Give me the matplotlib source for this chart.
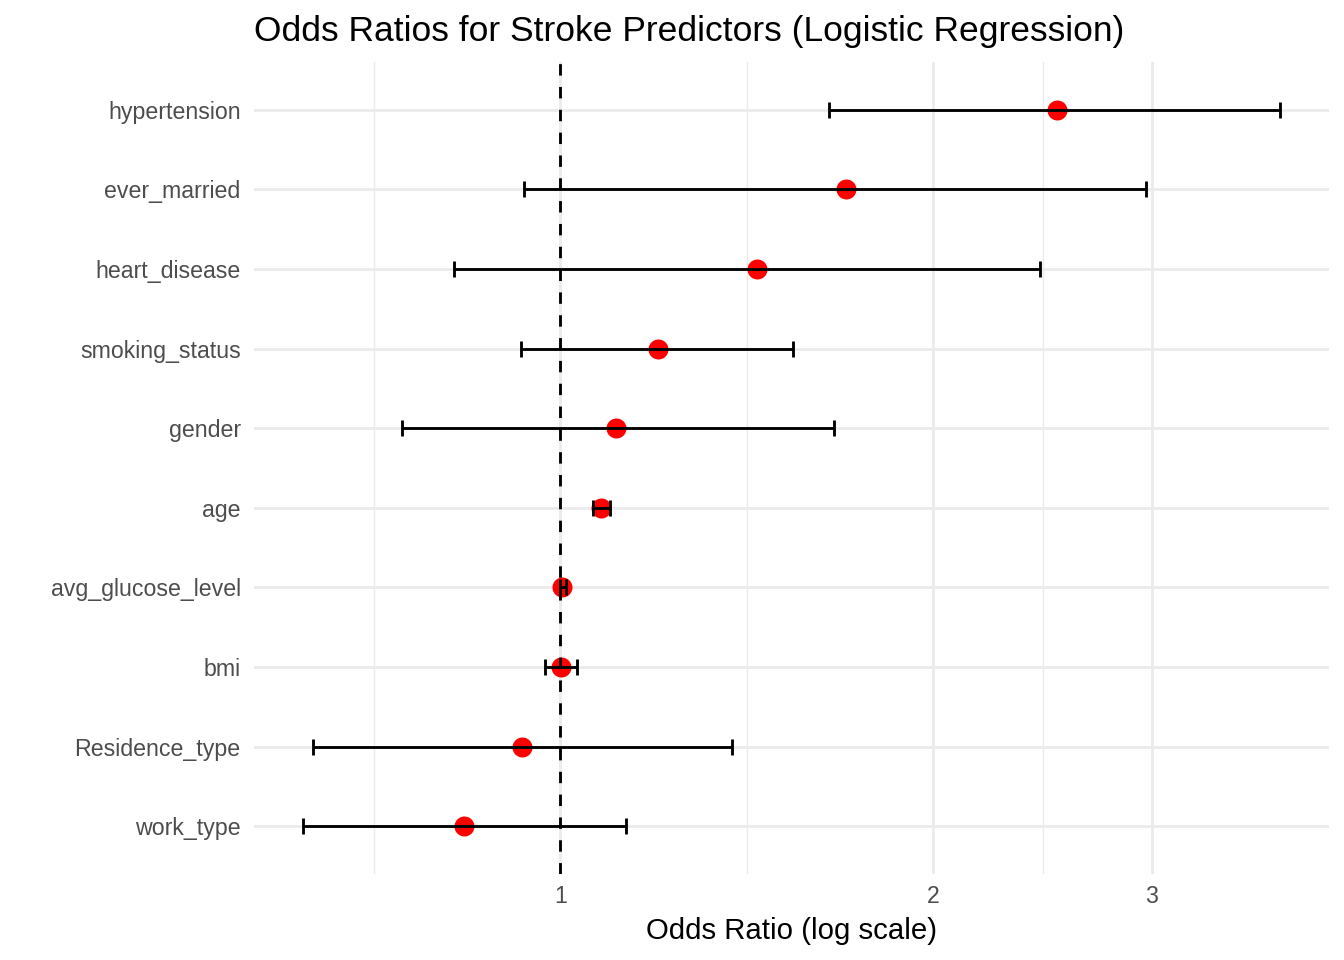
import numpy as np
import matplotlib.pyplot as plt
from matplotlib.ticker import FixedLocator, NullFormatter

plt.rcParams['font.family'] = ['Liberation Sans', 'DejaVu Sans']

# predictors, bottom to top
terms = ['work_type', 'Residence_type', 'bmi', 'avg_glucose_level', 'age',
         'gender', 'smoking_status', 'heart_disease', 'ever_married', 'hypertension']
odds = [0.837, 0.932, 1.002, 1.004, 1.079, 1.11, 1.20, 1.44, 1.70, 2.514]
ci_low = [0.620, 0.632, 0.972, 0.999, 1.063, 0.745, 0.930, 0.821, 0.935, 1.646]
ci_high = [1.13, 1.377, 1.032, 1.011, 1.097, 1.664, 1.542, 2.44, 2.966, 3.81]

major_breaks = [1, 2, 3]
minor_breaks = [np.sqrt(0.5), np.sqrt(2), np.sqrt(6)]

odds = np.array(odds)
lo = np.array(ci_low)
hi = np.array(ci_high)
y = np.arange(len(terms))

fig = plt.figure(figsize=(7, 5), dpi=192)
ax = fig.add_axes([0.1890, 0.0896, 0.9890 - 0.1890, 0.9354 - 0.0896])

lw = 1.07
grid = '#EBEBEB'
ax.set_xscale('log')

ax.plot(odds, y, 'o', color='red', markersize=7.5, markeredgewidth=0, zorder=3)
ax.errorbar(odds, y, xerr=[odds - lo, hi - odds], fmt='none', ecolor='black',
            elinewidth=lw, capsize=3, capthick=lw, zorder=4)
ax.axvline(1, color='black', linewidth=lw, linestyle=(0, (4, 4)), zorder=5)

# ggplot-style limits (5% expansion on log scale, 0.6 on discrete)
llo, lhi = np.log(lo.min()), np.log(hi.max())
pad = 0.05 * (lhi - llo)
ax.set_xlim(np.exp(llo - pad), np.exp(lhi + pad))
ax.set_ylim(-0.6, len(terms) - 1 + 0.6)

ax.xaxis.set_major_locator(FixedLocator(major_breaks))
ax.xaxis.set_minor_locator(FixedLocator(minor_breaks))
ax.xaxis.set_minor_formatter(NullFormatter())
ax.set_xticklabels([str(b) for b in major_breaks])
ax.set_yticks(y)
ax.set_yticklabels(terms)

ax.grid(True, which='major', color=grid, linewidth=lw, zorder=0)
ax.grid(True, which='minor', axis='x', color=grid, linewidth=lw / 2, zorder=0)
ax.set_axisbelow(True)
for s in ax.spines.values():
    s.set_visible(False)
ax.tick_params(which='both', length=0, labelsize=8.7, labelcolor='#4D4D4D')
ax.tick_params(axis='y', pad=5)
ax.tick_params(axis='x', pad=4)

ax.set_xlabel('Odds Ratio (log scale)', fontsize=11, labelpad=3.5)
ax.set_title('Odds Ratios for Stroke Predictors (Logistic Regression)',
             fontsize=13.25, loc='left', pad=8)

fig.savefig('out.png', dpi=192)
